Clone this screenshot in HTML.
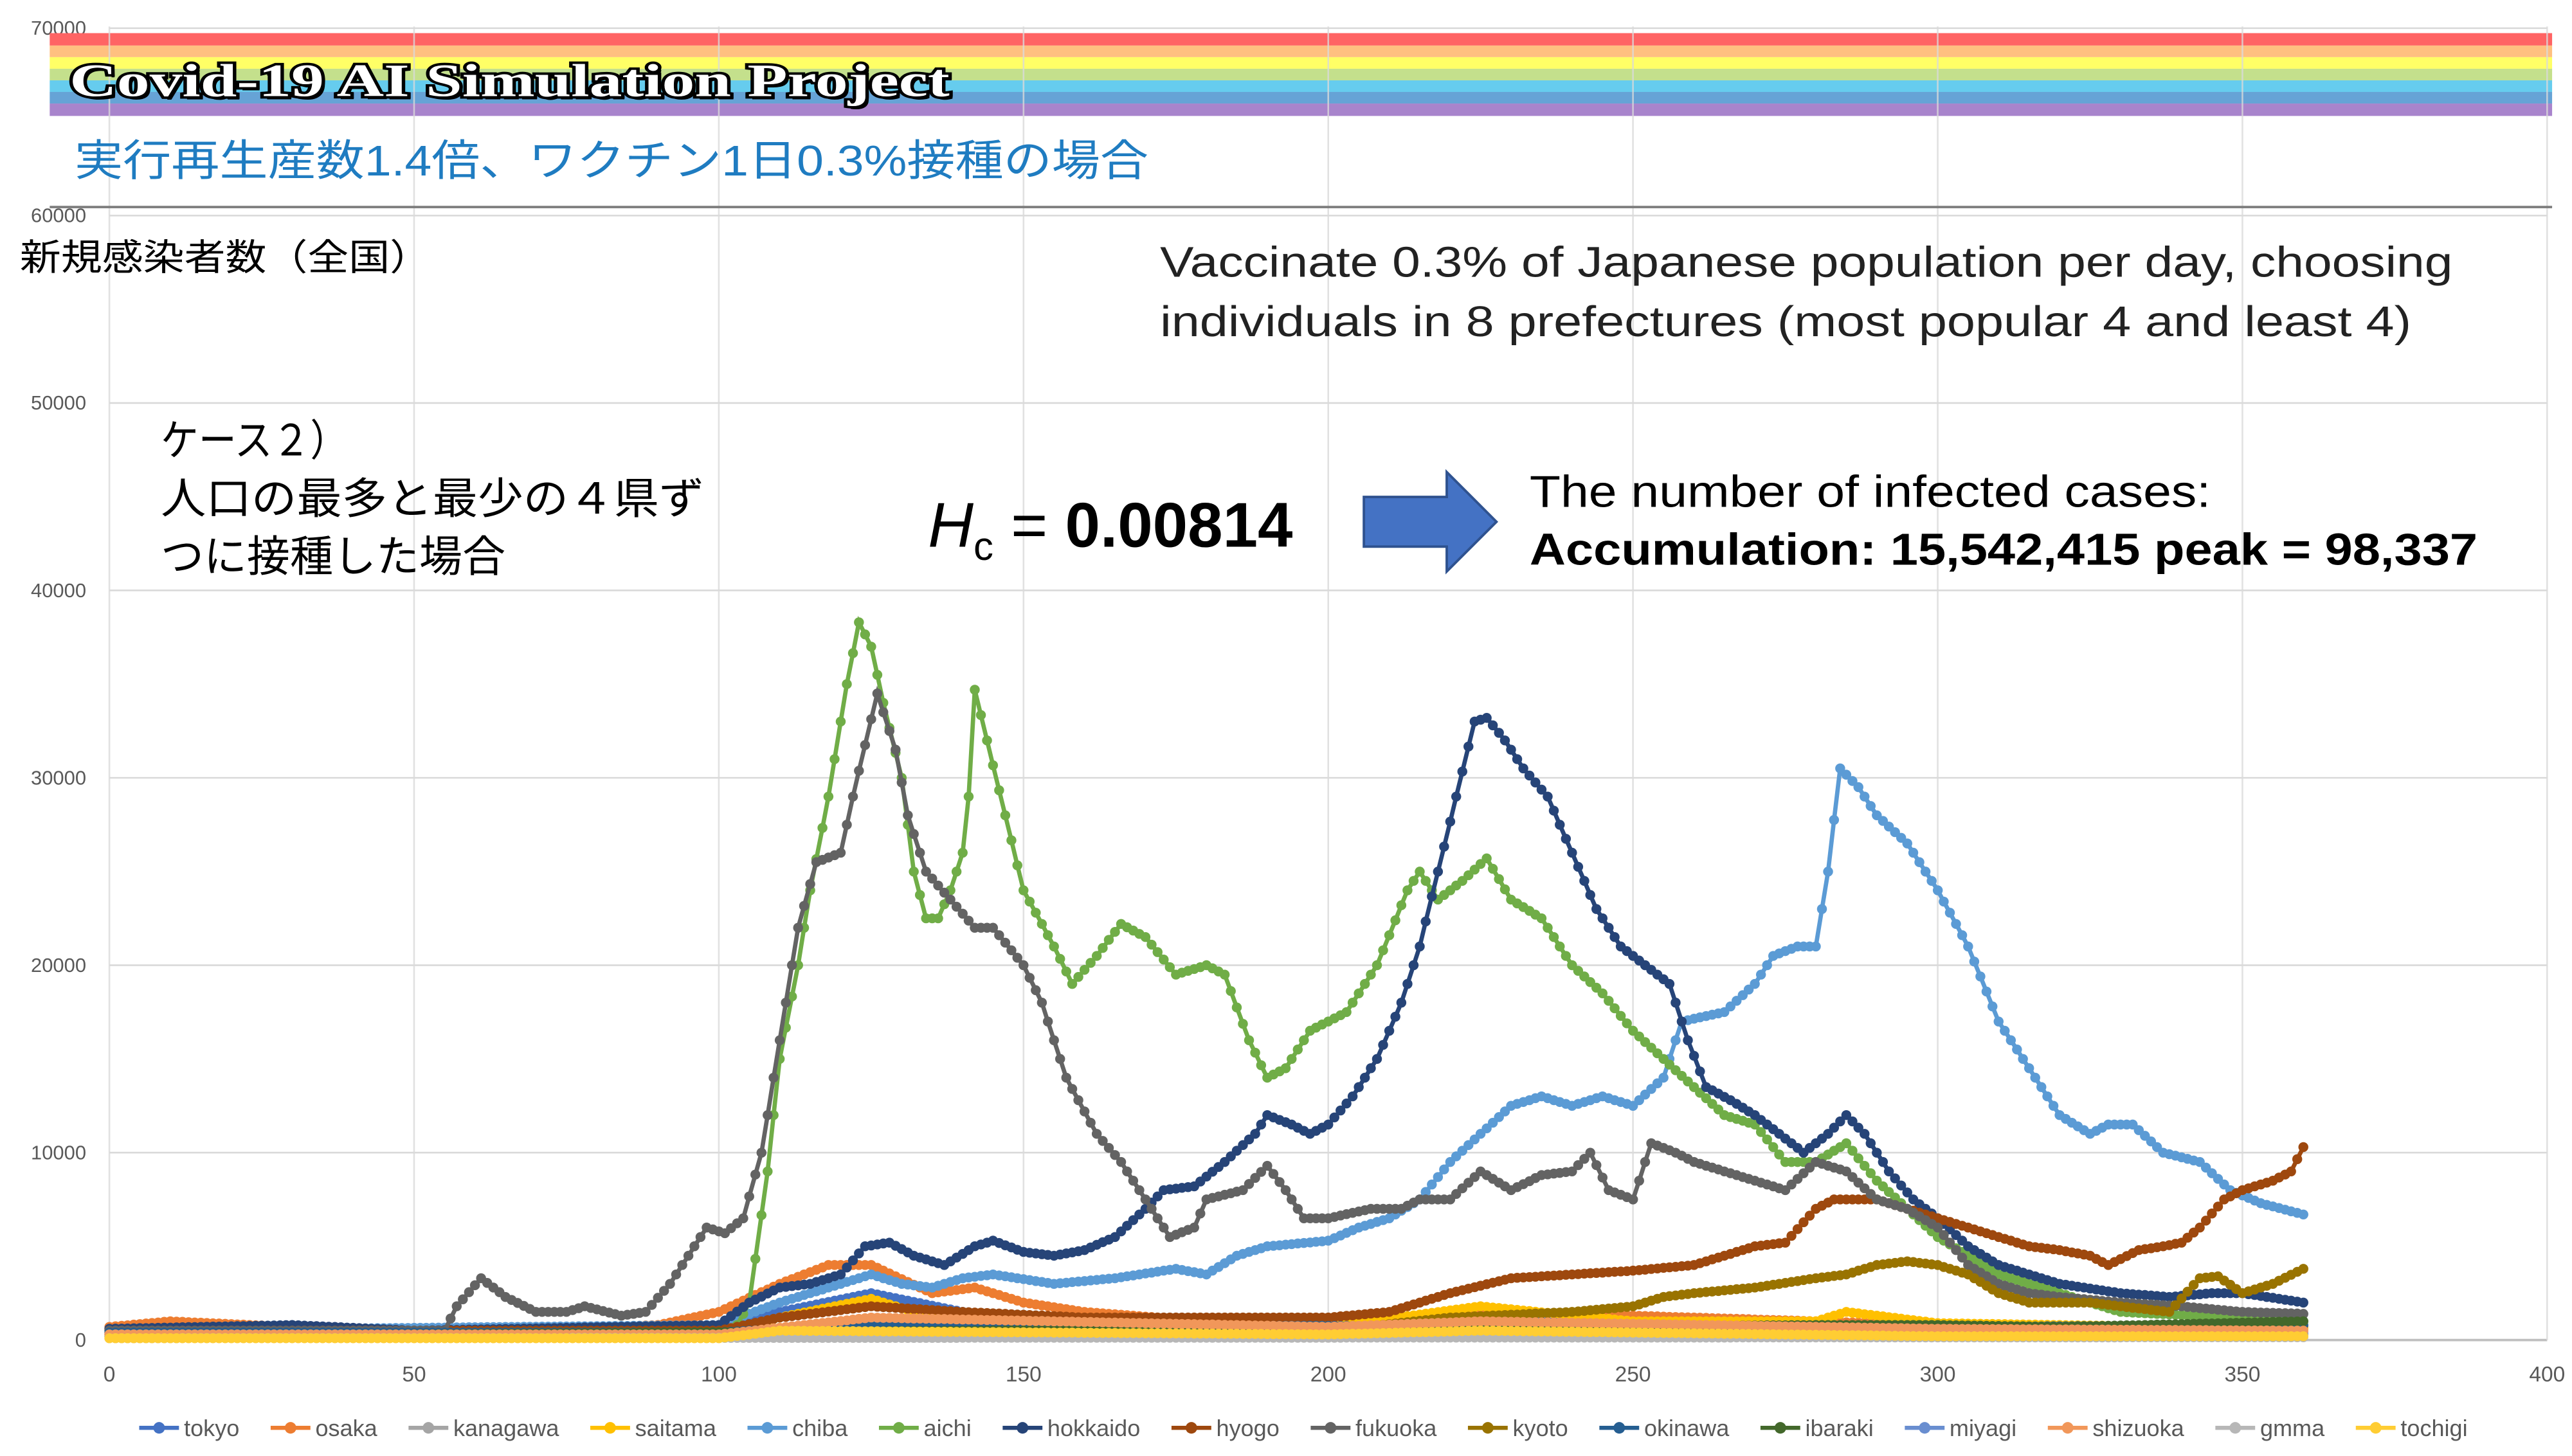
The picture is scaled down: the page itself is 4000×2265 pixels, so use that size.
<!DOCTYPE html>
<html><head><meta charset="utf-8"><style>
html,body{margin:0;padding:0;background:#fff;}
svg{display:block;}
text{font-family:"Liberation Sans","Noto Sans CJK JP",sans-serif;}
</style></head><body>
<svg id="s" width="4000" height="2265" viewBox="0 0 1552 879" preserveAspectRatio="none" xmlns="http://www.w3.org/2000/svg">
<rect width="1552" height="879" fill="#fff"/>
<g id="grid"></g>
<g id="banner">
<rect x="30" y="20" width="1510" height="7.5" fill="#ff6464"/>
<rect x="30" y="27.5" width="1510" height="7" fill="#ffc080"/>
<rect x="30" y="34.5" width="1510" height="7" fill="#ffff66"/>
<rect x="30" y="41.5" width="1510" height="7" fill="#c4e08c"/>
<rect x="30" y="48.5" width="1510" height="7" fill="#66ccee"/>
<rect x="30" y="55.5" width="1510" height="7" fill="#66a3d6"/>
<rect x="30" y="62.5" width="1510" height="7.5" fill="#a884cc"/>
</g>
<g id="vg"></g>
<text x="44" y="60" font-weight="bold" font-size="28" fill="#000" textLength="531" lengthAdjust="spacingAndGlyphs" style="font-family:'Liberation Serif',serif">Covid-19 AI Simulation Project</text>
<text x="42" y="58" font-weight="bold" font-size="28" fill="#fff" stroke="#000" stroke-width="3" paint-order="stroke" textLength="531" lengthAdjust="spacingAndGlyphs" style="font-family:'Liberation Serif',serif">Covid-19 AI Simulation Project</text>
<text x="45" y="106" font-size="26" fill="#1f7cc1" textLength="648" lengthAdjust="spacingAndGlyphs">実行再生産数1.4倍、ワクチン1日0.3%接種の場合</text>
<line x1="30" y1="125" x2="1540" y2="125" stroke="#808080" stroke-width="1.5"/>
<text x="12" y="163" font-size="22" fill="#000" textLength="248" lengthAdjust="spacingAndGlyphs">新規感染者数（全国）</text>
<text x="700" y="167" font-size="26" fill="#222" textLength="780" lengthAdjust="spacingAndGlyphs">Vaccinate 0.3% of Japanese population per day,  choosing</text>
<text x="700" y="203" font-size="26" fill="#222" textLength="755" lengthAdjust="spacingAndGlyphs">individuals in 8 prefectures (most popular 4 and least 4)</text>
<text x="97" y="275" font-size="26" fill="#000" textLength="113" lengthAdjust="spacingAndGlyphs">ケース２）</text>
<text x="97" y="310" font-size="26" fill="#000" textLength="328" lengthAdjust="spacingAndGlyphs">人口の最多と最少の４県ず</text>
<text x="97" y="345" font-size="26" fill="#000" textLength="208" lengthAdjust="spacingAndGlyphs">つに接種した場合</text>
<text x="560" y="330" font-size="38" fill="#000"><tspan font-style="italic">H</tspan><tspan font-size="24" dy="8">c</tspan><tspan dy="-8"> = </tspan><tspan font-weight="bold">0.00814</tspan></text>
<polygon points="823,300 873,300 873,285 903,315 873,345 873,330 823,330" fill="#4472c4" stroke="#2f528f" stroke-width="1.5"/>
<text x="923" y="306" font-size="27" fill="#000" textLength="411" lengthAdjust="spacingAndGlyphs">The number of infected cases:</text>
<text x="923" y="341" font-size="27" font-weight="bold" fill="#000" textLength="572" lengthAdjust="spacingAndGlyphs">Accumulation: 15,542,415 peak = 98,337</text>
<g id="series"></g>
<g id="legend"></g>
</svg>
<script>
var NS="http://www.w3.org/2000/svg";
function el(t,a,p){var e=document.createElementNS(NS,t);for(var k in a)e.setAttribute(k,a[k]);(p||document.getElementById('s')).appendChild(e);return e;}
var X=function(d){return 66+d*3.6775;}, Y=function(v){return 809-v*0.011314;};
var g=document.getElementById('grid');
for(var v=0;v<=70000;v+=10000){
 if(v<70000&&v>0) el('line',{x1:66,x2:1537,y1:Y(v),y2:Y(v),stroke:'#d9d9d9','stroke-width':1},g);
 var t=el('text',{x:52,y:Y(v)+4,'font-size':12,fill:'#595959','text-anchor':'end'},g);t.textContent=v;
}
el('line',{x1:66,x2:1537,y1:Y(70000),y2:Y(70000),stroke:'#d9d9d9','stroke-width':1},g);
el('line',{x1:66,x2:1537,y1:809,y2:809,stroke:'#bfbfbf','stroke-width':1.5},g);
var vg=document.getElementById('vg');
for(var d=0;d<=400;d+=50){
 el('line',{x1:X(d),x2:X(d),y1:16,y2:809,stroke:'#d9d9d9','stroke-width':1,'stroke-opacity':0.8},vg);
 var t=el('text',{x:X(d),y:834,'font-size':13,fill:'#595959','text-anchor':'middle'},g);t.textContent=d;
}
var S=[
['tokyo','#4472c4',[[0,600],[30,700],[50,400],[100,600],[110,1500],[125,2500],[140,1500],[160,1000],[200,900],[230,1000],[300,800],[360,700]]],
['osaka','#ed7d31',[[0,700],[10,1000],[30,700],[50,300],[90,800],[100,1500],[110,3000],[118,4000],[125,4000],[135,2500],[142,2800],[150,2000],[160,1500],[180,1000],[200,1000],[220,1400],[230,1500],[250,1300],[300,800],[360,700]]],
['kanagawa','#a5a5a5',[[0,300],[100,300],[125,900],[200,500],[360,400]]],
['saitama','#ffc000',[[0,400],[100,400],[110,1200],[125,2200],[135,1200],[150,1000],[200,700],[225,1800],[250,1000],[280,1000],[285,1500],[300,900],[360,600]]],
['chiba','#5b9bd5',[[0,500],[100,800],[110,2000],[120,3000],[125,3500],[130,3000],[135,2800],[140,3300],[145,3500],[155,3000],[165,3300],[175,3800],[180,3500],[185,4500],[190,5000],[200,5300],[205,6000],[210,6500],[215,7500],[220,9500],[225,11000],[230,12500],[235,13000],[240,12500],[245,13000],[250,12500],[255,14000],[258,17000],[265,17500],[270,19000],[273,20500],[277,21000],[280,21000],[282,25000],[284,30500],[287,29500],[290,28000],[295,26500],[300,24000],[305,21000],[310,17000],[315,14500],[320,12000],[325,11000],[328,11500],[332,11500],[337,10000],[343,9500],[348,8000],[353,7300],[360,6700]]],
['aichi','#70ad47',[[0,300],[100,300],[103,800],[105,2000],[108,9000],[110,15000],[113,20000],[115,24000],[118,29000],[121,35000],[123,38300],[125,37000],[127,34000],[130,30000],[132,25000],[134,22500],[136,22500],[138,24000],[140,26000],[141,29000],[142,34700],[144,32000],[147,28000],[150,24000],[155,21000],[158,19000],[162,20500],[166,22200],[170,21500],[175,19500],[180,20000],[183,19500],[187,16000],[190,14000],[193,14500],[197,16500],[203,17500],[208,20000],[213,24000],[215,25000],[218,23500],[222,24500],[226,25700],[230,23500],[235,22500],[240,20000],[245,18500],[250,16500],[255,15000],[260,13500],[265,12000],[270,11500],[275,9500],[280,9500],[285,10500],[290,8500],[295,7000],[300,5500],[305,4500],[310,3500],[315,3000],[320,2500],[330,1500],[360,1000]]],
['hokkaido','#264478',[[0,600],[30,800],[50,500],[100,800],[105,2000],[110,2800],[115,3000],[120,3500],[124,5000],[128,5200],[132,4500],[137,4000],[142,5000],[145,5300],[150,4700],[155,4500],[160,4800],[165,5500],[170,7000],[173,8000],[178,8200],[183,9500],[188,11000],[190,12000],[194,11500],[197,11000],[200,11500],[204,13000],[208,15000],[212,18000],[215,21000],[218,25000],[221,29000],[224,33000],[226,33200],[229,32000],[232,30500],[236,29000],[240,26000],[244,23000],[248,21000],[252,20000],[256,19000],[259,16000],[262,13500],[266,12800],[270,12000],[274,11000],[278,10000],[282,11000],[285,12000],[288,11000],[292,9000],[296,7500],[300,6500],[305,5000],[310,4000],[315,3500],[320,3000],[330,2500],[338,2300],[345,2500],[350,2500],[360,2000]]],
['hyogo','#9e480e',[[0,500],[100,500],[110,1200],[125,1800],[140,1500],[160,1200],[200,1200],[210,1500],[220,2500],[230,3300],[240,3500],[250,3700],[260,4000],[265,4500],[270,5000],[275,5200],[280,7000],[283,7500],[290,7500],[295,7000],[300,6500],[305,6000],[310,5500],[315,5000],[320,4800],[325,4500],[328,4000],[333,4800],[337,5000],[340,5200],[343,6000],[347,7500],[350,8000],[355,8500],[358,9000],[360,10300]]],
['fukuoka','#636363',[[0,500],[55,500],[57,1800],[61,3300],[65,2300],[70,1500],[75,1500],[78,1800],[84,1300],[88,1500],[92,3000],[96,5000],[98,6000],[101,5700],[104,6500],[107,10000],[110,16000],[113,22000],[116,25500],[120,26000],[122,29000],[126,34500],[129,31500],[131,28000],[134,25000],[138,23500],[142,22000],[145,22000],[150,20000],[153,18000],[157,14000],[162,11000],[166,9500],[170,7500],[174,5500],[178,6000],[180,7500],[186,8000],[190,9300],[193,8000],[196,6500],[200,6500],[207,7000],[212,7000],[215,7500],[220,7500],[225,9000],[230,8000],[235,8800],[240,9000],[243,10000],[246,8000],[250,7500],[253,10500],[257,10000],[260,9500],[265,9000],[270,8500],[275,8000],[280,9500],[285,9000],[290,7500],[295,7000],[300,6000],[305,4000],[310,3000],[315,2500],[320,2300],[330,2000],[340,1800],[350,1500],[360,1400]]],
['kyoto','#997300',[[0,300],[200,500],[220,1200],[240,1500],[250,1800],[255,2300],[260,2500],[270,2800],[280,3300],[285,3500],[290,4000],[295,4200],[300,4000],[305,3500],[310,2500],[315,2000],[325,2000],[330,1800],[338,1500],[343,3300],[346,3400],[350,2500],[355,3000],[360,3800]]],
['okinawa','#255e91',[[0,400],[100,400],[120,800],[300,700],[360,800]]],
['ibaraki','#43682b',[[0,200],[280,800],[300,800],[320,700],[360,1000]]],
['miyagi','#698ed0',[[0,200],[360,300]]],
['shizuoka','#f1975a',[[0,300],[100,300],[125,1200],[200,700],[225,1000],[300,600],[360,500]]],
['gmma','#b7b7b7',[[0,100],[360,150]]],
['tochigi','#ffcd33',[[0,100],[100,100],[110,500],[200,300],[225,500],[300,200],[360,200]]]
];
function val(p,d){for(var i=0;i<p.length-1;i++){if(d>=p[i][0]&&d<=p[i+1][0]){var f=(d-p[i][0])/(p[i+1][0]-p[i][0]||1);return p[i][1]+f*(p[i+1][1]-p[i][1]);}}return p[p.length-1][1];}
var sg=document.getElementById('series');
S.forEach(function(s){
 var pts=[];for(var d=0;d<=360;d++){pts.push(X(d).toFixed(1)+','+Y(val(s[2],d)).toFixed(1));}
 el('polyline',{points:pts.join(' '),fill:'none',stroke:s[1],'stroke-width':2.6},sg);
 for(var d=0;d<=360;d++){el('circle',{cx:X(d).toFixed(1),cy:Y(val(s[2],d)).toFixed(1),r:3,fill:s[1]},sg);}
});
var lg=document.getElementById('legend');
var items=[],tot=0;
S.forEach(function(s){
 var t=el('text',{x:0,y:867,'font-size':14,fill:'#595959'},lg);t.textContent=s[0];
 var w=t.getComputedTextLength();items.push([s,t,w]);tot+=w+28;
});
var gap=(1490-84-tot)/(S.length-1);var lx=84;
items.forEach(function(it){
 var s=it[0];
 el('line',{x1:lx,x2:lx+24,y1:862,y2:862,stroke:s[1],'stroke-width':2.5},lg);
 el('circle',{cx:lx+12,cy:862,r:3.5,fill:s[1]},lg);
 it[1].setAttribute('x',lx+27);
 lx+=28+it[2]+gap;
});
</script>
</body></html>
